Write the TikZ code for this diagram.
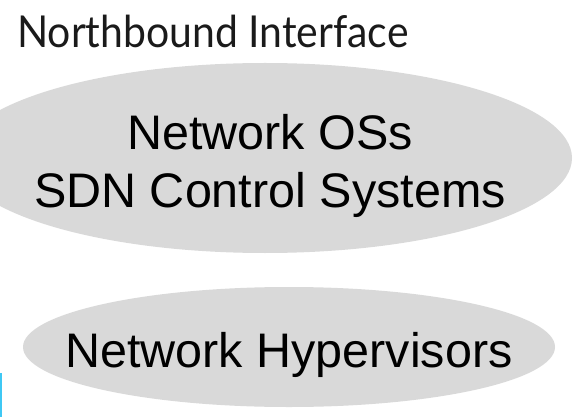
\documentclass[tikz,border=0pt]{standalone}
\usepackage{fontspec}
\setmainfont{Liberation Sans}
\newfontfamily\titlefont{Lato}
\definecolor{blobgray}{HTML}{D9D9D9}
\definecolor{inktext}{HTML}{1A1A1A}
\definecolor{edgeblue}{HTML}{3FC8F4}
\begin{document}
\begin{tikzpicture}[x=1pt,y=1pt,
  blob/.style={fill=blobgray},
  layertext/.style={font=\fontsize{48.5}{56}\selectfont, text=black, inner sep=0pt, anchor=base},
  heading/.style={font=\titlefont\fontsize{44}{50}\selectfont, text=inktext, inner sep=0pt, anchor=base west, xscale=0.93}]
\useasboundingbox (0,0) rectangle (577,418);
% layer ellipses
\fill[blob] (265,260) ellipse [x radius=307, y radius=95];
\fill[blob] (289,71) ellipse [x radius=266, y radius=60];
% labels
\node[heading] (title) at (17,370) {Northbound Interface};
\node[layertext] (nos) at (270,268) {Network OSs};
\node[layertext] (sdn) at (270,211) {SDN Control Systems};
\node[layertext] (hyp) at (289,51) {Network Hypervisors};
% edge mark at the lower left
\coordinate (edgetop) at (1,45);
\coordinate (edgebot) at (1,1);
\draw[edgeblue, line width=1.6pt] (edgetop) -- (edgebot);
\end{tikzpicture}
\end{document}
